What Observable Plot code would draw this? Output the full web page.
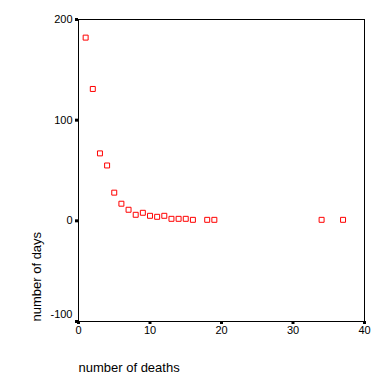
<!DOCTYPE html>
<html>
<head>
<meta charset="utf-8">
<script src="https://cdn.jsdelivr.net/npm/d3@7"></script>
<script src="https://cdn.jsdelivr.net/npm/@observablehq/plot@0.6"></script>
<style>
  html, body { margin: 0; padding: 0; background: white; }
</style>
</head>
<body>
<div id="chart"></div>
<script>
const deaths = [1, 2, 3, 4, 5, 6, 7, 8, 9, 10, 11, 12, 13, 14, 15, 16, 18, 19, 34, 37];
const days = [182, 131, 67, 55, 28, 17, 11, 6, 8, 5, 4, 5, 2, 2, 2, 1, 1, 1, 1, 1];
const xTicks = [0, 10, 20, 30, 40];
const yTicks = [0, 100, 200];
const yBottomTick = [-100];
const xLabel = "number of deaths";
const yLabel = "number of days";

const data = deaths.map((d, i) => ({deaths: d, days: days[i]}));

const chart = Plot.plot({
  width: 379,
  height: 385,
  marginLeft: 78,
  marginRight: 15,
  marginTop: 19,
  marginBottom: 64,
  style: {fontFamily: "'Liberation Sans', Arial, sans-serif", fontSize: "11px", color: "black", background: "white"},
  x: {domain: [0, 40]},
  y: {domain: [-100, 200]},
  marks: [
    Plot.frame({stroke: "black", strokeWidth: 1}),
    Plot.axisX({ticks: xTicks, tickSize: 3, strokeWidth: 3, tickPadding: 2, label: null}),
    Plot.axisY({ticks: yTicks, tickSize: 3, strokeWidth: 3, tickPadding: 3, label: null}),
    Plot.axisY({ticks: yBottomTick, tickSize: 3, strokeWidth: 3, tickFormat: () => "", label: null}),
    Plot.text(yBottomTick, {y: d => d, text: d => String(d), frameAnchor: "left", textAnchor: "end", dx: -6, dy: -7}),
    Plot.dot(data, {x: "deaths", y: "days", symbol: "square", r: 2.8, stroke: "#ff0000", strokeWidth: 1, fill: "none"}),
    Plot.text([xLabel], {text: d => d, frameAnchor: "bottom-left", textAnchor: "start", lineAnchor: "middle", dy: 46, fontSize: 13}),
    Plot.text([yLabel], {text: d => d, frameAnchor: "bottom-left", textAnchor: "start", lineAnchor: "middle", rotate: -90, dx: -42, fontSize: 13})
  ]
});
document.getElementById("chart").appendChild(chart);
</script>
</body>
</html>
